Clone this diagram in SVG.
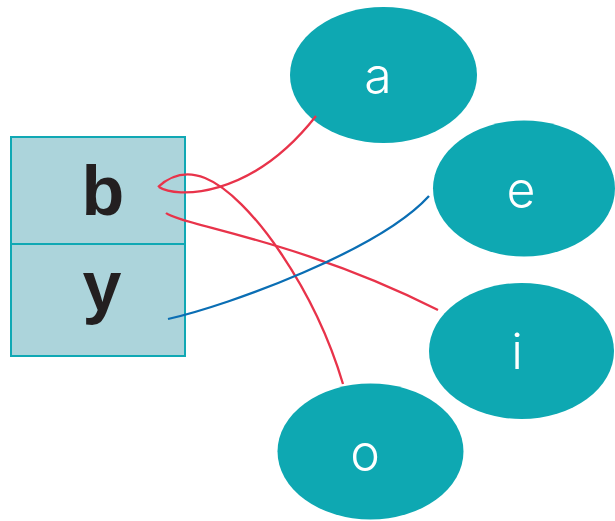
<svg xmlns="http://www.w3.org/2000/svg" width="615" height="521" viewBox="0 0 615 521">
<style>
.rec{fill:#acd4db;stroke:#10a8b4;stroke-width:2}
.ell{fill:#0ea8b2}
.lbl{font-family:Inter,"Liberation Sans",Arial,sans-serif;font-size:50px;font-weight:300;fill:#ffffff;text-anchor:middle}
.fld{font-family:"Liberation Sans",Arial,sans-serif;font-size:70px;font-weight:bold;fill:#231f20;text-anchor:middle}
.red{fill:none;stroke:#e8334a;stroke-width:2.3}
.blue{fill:none;stroke:#0a6eb4;stroke-width:2.3}
</style>
<rect width="615" height="521" fill="#ffffff"/>
<g id="record">
<rect class="rec" x="11" y="137" width="174" height="107"/>
<rect class="rec" x="11" y="244" width="174" height="112"/>
<text class="fld" x="103" y="215">b</text>
<text class="fld" x="102" y="310">y</text>
</g>
<g id="node-a"><ellipse class="ell" cx="383.5" cy="75" rx="93.5" ry="68"/><text class="lbl" x="378" y="93">a</text></g>
<g id="node-e"><ellipse class="ell" cx="524" cy="188.5" rx="91" ry="68"/><text class="lbl" x="521" y="207">e</text></g>
<g id="node-i"><ellipse class="ell" cx="521.5" cy="351" rx="92.5" ry="68"/><text class="lbl" x="517" y="369">i</text></g>
<g id="node-o"><ellipse class="ell" cx="370.5" cy="451.5" rx="93" ry="68"/><text class="lbl" x="365" y="470">o</text></g>
<g id="edges">
<path class="red" d="M159,187 C175,198 250,200 316,116"/>
<path class="red" d="M158,187 C170,176 185,170 205,178 C250,196 315,290 343,384"/>
<path class="red" d="M166,213 C180,225 300,240 438,310"/>
<path class="blue" d="M168,319 C230,305 380,250 429,196"/>
</g>
</svg>
